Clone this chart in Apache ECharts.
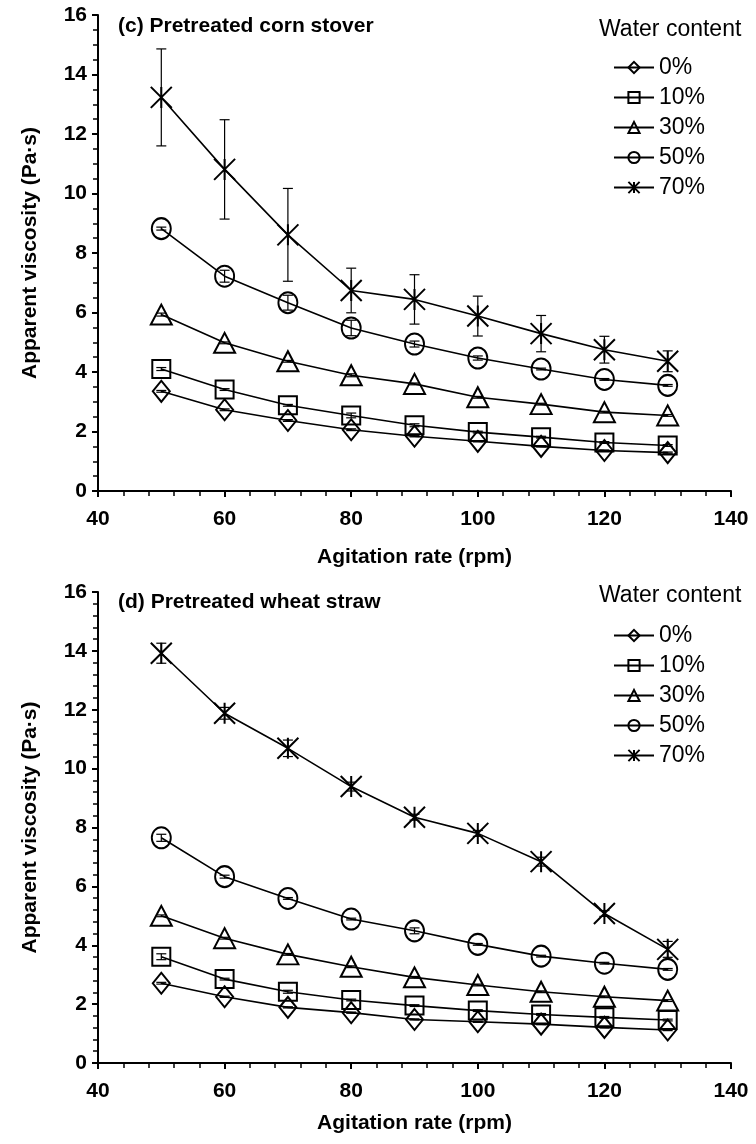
<!DOCTYPE html>
<html>
<head>
<meta charset="utf-8">
<script src="https://cdn.jsdelivr.net/npm/echarts@6/dist/echarts.min.js"></script>
<style>
  html, body { margin: 0; padding: 0; background: #fff; }
  #chart { width: 756px; height: 1144px; }
</style>
</head>
<body>
<div id="chart"></div>
<script>
// agitation rates (rpm)
var rates = [50, 60, 70, 80, 90, 100, 110, 120, 130];
var waterNames = ['0%', '10%', '30%', '50%', '70%'];

// (c) pretreated corn stover, Pa·s
var corn0 = [3.35, 2.73, 2.37, 2.06, 1.84, 1.67, 1.50, 1.36, 1.29];
var corn10 = [4.10, 3.41, 2.88, 2.54, 2.21, 1.98, 1.81, 1.63, 1.53];
var corn30 = [5.93, 4.98, 4.36, 3.89, 3.60, 3.15, 2.92, 2.65, 2.54];
var corn50 = [8.82, 7.22, 6.33, 5.48, 4.94, 4.47, 4.10, 3.75, 3.55];
var corn70 = [13.23, 10.81, 8.61, 6.74, 6.44, 5.88, 5.29, 4.75, 4.36];
// error bar half widths
var cornErr0 = [0.03, 0.03, 0.03, 0.03, 0.02, 0.02, 0.02, 0.02, 0.02];
var cornErr10 = [0.05, 0.03, 0.03, 0.08, 0.05, 0.03, 0.03, 0.03, 0.03];
var cornErr30 = [0.05, 0.03, 0.03, 0.05, 0.03, 0.03, 0.03, 0.03, 0.03];
var cornErr50 = [0.05, 0.2, 0.25, 0.26, 0.1, 0.07, 0.03, 0.03, 0.03];
var cornErr70 = [1.63, 1.67, 1.56, 0.75, 0.83, 0.67, 0.61, 0.45, 0.35];

// (d) pretreated wheat straw, Pa·s
var wheat0 = [2.71, 2.25, 1.89, 1.71, 1.48, 1.40, 1.32, 1.21, 1.12];
var wheat10 = [3.61, 2.85, 2.42, 2.14, 1.95, 1.78, 1.65, 1.55, 1.46];
var wheat30 = [5.00, 4.24, 3.69, 3.27, 2.91, 2.65, 2.42, 2.25, 2.12];
var wheat50 = [7.65, 6.33, 5.59, 4.89, 4.49, 4.03, 3.63, 3.39, 3.18];
var wheat70 = [13.92, 11.88, 10.69, 9.39, 8.35, 7.80, 6.84, 5.08, 3.86];
var wheatErr0 = [0.03, 0.02, 0.02, 0.02, 0.02, 0.02, 0.02, 0.02, 0.02];
var wheatErr10 = [0.1, 0.03, 0.05, 0.03, 0.03, 0.03, 0.03, 0.03, 0.03];
var wheatErr30 = [0.03, 0.03, 0.03, 0.03, 0.03, 0.03, 0.03, 0.03, 0.03];
var wheatErr50 = [0.12, 0.05, 0.03, 0.03, 0.1, 0.03, 0.03, 0.03, 0.03];
var wheatErr70 = [0.34, 0.2, 0.28, 0.15, 0.1, 0.1, 0.15, 0.1, 0.27];

var xTicks = [40, 60, 80, 100, 120, 140];

var symbols = [
  { symbol: 'diamond', size: [17, 21] },
  { symbol: 'rect', size: [18, 18] },
  { symbol: 'triangle', size: [21, 20] },
  { symbol: 'circle', size: [19, 21] },
  { symbol: 'path://M0,0L20,20M20,0L0,20M10,0L10,20', size: [21, 21] }
];

var font = 'Liberation Sans, Arial, sans-serif';
var chart = echarts.init(document.getElementById('chart'), null, { renderer: 'canvas' });

function pairs(vals) {
  return rates.map(function (r, i) { return [r, vals[i]]; });
}

function errData(vals, errs) {
  return rates.map(function (r, i) { return [r, vals[i] - errs[i], vals[i] + errs[i]]; });
}

function errRender(params, api) {
  var lo = api.coord([api.value(0), api.value(1)]);
  var hi = api.coord([api.value(0), api.value(2)]);
  var cap = 5;
  var st = { stroke: '#000', lineWidth: 1.2 };
  return {
    type: 'group',
    children: [
      { type: 'line', shape: { x1: lo[0], y1: lo[1], x2: hi[0], y2: hi[1] }, style: st },
      { type: 'line', shape: { x1: lo[0] - cap, y1: lo[1], x2: lo[0] + cap, y2: lo[1] }, style: st },
      { type: 'line', shape: { x1: hi[0] - cap, y1: hi[1], x2: hi[0] + cap, y2: hi[1] }, style: st }
    ]
  };
}

function makeSeries(idx, sets, errs) {
  var out = [];
  sets.forEach(function (vals, k) {
    out.push({
      type: 'custom',
      xAxisIndex: idx,
      yAxisIndex: idx,
      renderItem: errRender,
      data: errData(vals, errs[k]),
      z: 3,
      silent: true
    });
  });
  sets.forEach(function (vals, k) {
    out.push({
      name: waterNames[k],
      type: 'line',
      xAxisIndex: idx,
      yAxisIndex: idx,
      data: pairs(vals),
      symbol: symbols[k].symbol,
      symbolSize: symbols[k].size,
      showAllSymbol: true,
      lineStyle: { color: '#000', width: 1.6 },
      itemStyle: { color: 'rgba(255,255,255,0)', borderColor: '#000', borderWidth: 2 },
      z: 4,
      animation: false
    });
  });
  return out;
}

function xAxis(idx, gap) {
  return {
    gridIndex: idx,
    type: 'value',
    min: 40,
    max: 140,
    interval: 20,
    name: 'Agitation rate (rpm)',
    nameLocation: 'middle',
    nameGap: gap,
    nameTextStyle: { color: '#000', fontSize: 21, fontWeight: 'bold', fontFamily: font },
    axisLine: { lineStyle: { color: '#000', width: 2 } },
    axisTick: { show: true, length: 6, lineStyle: { color: '#000', width: 2 } },
    minorTick: { show: true, splitNumber: 5, length: 5, lineStyle: { color: '#000', width: 1.5 } },
    splitLine: { show: false },
    axisLabel: {
      color: '#000', fontSize: 21, fontWeight: 'bold', fontFamily: font, margin: 18,
      formatter: function (v) { return xTicks.indexOf(v) >= 0 ? String(v) : ''; }
    }
  };
}

function yAxis(idx, minorSplit) {
  return {
    gridIndex: idx,
    type: 'value',
    min: 0,
    max: 16,
    interval: 2,
    name: 'Apparent viscosity (Pa·s)',
    nameLocation: 'middle',
    nameGap: 57,
    nameTextStyle: { color: '#000', fontSize: 21, fontWeight: 'bold', fontFamily: font },
    axisLine: { lineStyle: { color: '#000', width: 2 } },
    axisTick: { show: true, length: 6, lineStyle: { color: '#000', width: 2 } },
    minorTick: { show: true, splitNumber: minorSplit, length: 5, lineStyle: { color: '#000', width: 1.5 } },
    splitLine: { show: false },
    axisLabel: { color: '#000', fontSize: 21, fontWeight: 'bold', fontFamily: font, margin: 11 }
  };
}

function legend(top) {
  return {
    data: waterNames,
    orient: 'vertical',
    left: 608,
    top: top,
    itemWidth: 40,
    itemHeight: 14,
    itemGap: 7,
    textStyle: { color: '#000', fontSize: 23, fontFamily: font },
    selectedMode: false
  };
}

var option = {
  backgroundColor: '#fff',
  animation: false,
  title: [
    { text: '(c) Pretreated corn stover', left: 118, top: 16, padding: 0,
      textStyle: { color: '#000', fontSize: 21, fontWeight: 'bold', fontFamily: font } },
    { text: 'Water content', left: 599, top: 18, padding: 0,
      textStyle: { color: '#000', fontSize: 23, fontWeight: 'normal', fontFamily: font } },
    { text: '(d) Pretreated wheat straw', left: 118, top: 592, padding: 0,
      textStyle: { color: '#000', fontSize: 21, fontWeight: 'bold', fontFamily: font } },
    { text: 'Water content', left: 599, top: 584, padding: 0,
      textStyle: { color: '#000', fontSize: 23, fontWeight: 'normal', fontFamily: font } }
  ],
  legend: [legend(51), legend(619)],
  grid: [
    { left: 98, right: 25, top: 15, height: 476 },
    { left: 98, right: 25, top: 592, height: 471 }
  ],
  xAxis: [xAxis(0, 56), xAxis(1, 50)],
  yAxis: [yAxis(0, 4), yAxis(1, 5)],
  series: makeSeries(0, [corn0, corn10, corn30, corn50, corn70],
                        [cornErr0, cornErr10, cornErr30, cornErr50, cornErr70])
    .concat(makeSeries(1, [wheat0, wheat10, wheat30, wheat50, wheat70],
                          [wheatErr0, wheatErr10, wheatErr30, wheatErr50, wheatErr70]))
};

chart.setOption(option);
</script>
</body>
</html>
